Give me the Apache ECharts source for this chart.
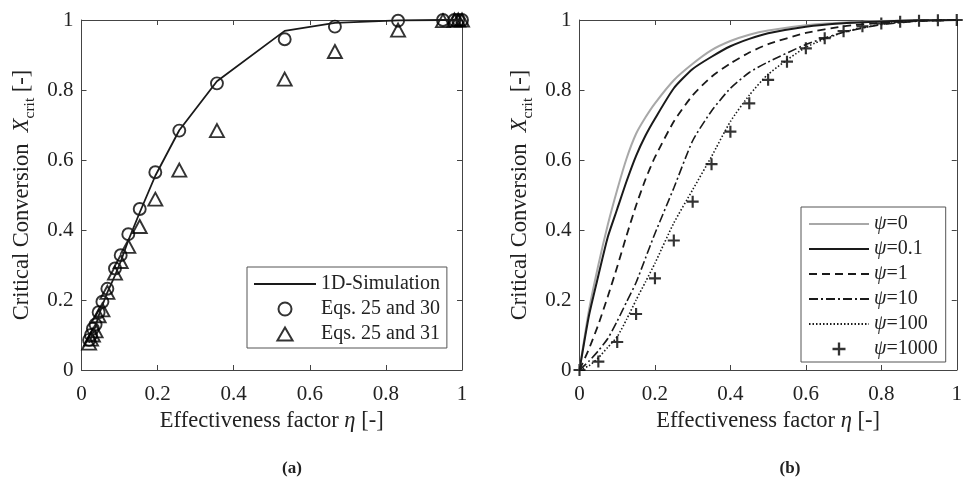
<!DOCTYPE html>
<html>
<head>
<meta charset="utf-8">
<script src="https://cdn.jsdelivr.net/npm/echarts@6/dist/echarts.min.js"></script>
<style>
  html, body { margin: 0; padding: 0; background: #fff; }
  #chart { width: 965px; height: 477px; }
</style>
</head>
<body>
<div id="chart"></div>
<script>
const FONT = "Liberation Serif";
const INK = "#222";
const BOX = "#444";

// (a) effectiveness factor values shared by simulation and both equations
const etaA = [0.02, 0.025, 0.03, 0.037, 0.045, 0.055, 0.068, 0.088, 0.103, 0.123, 0.153,
  0.194, 0.257, 0.356, 0.534, 0.666, 0.832, 0.95, 0.98, 0.99, 1.0];
const simY = [0.078, 0.092, 0.106, 0.125, 0.155, 0.185, 0.222, 0.27, 0.31, 0.37, 0.45,
  0.555, 0.685, 0.825, 0.969, 0.992, 0.999, 1, 1, 1, 1];
const eq30Y = [0.086, 0.1, 0.118, 0.13, 0.165, 0.195, 0.232, 0.29, 0.328, 0.388, 0.46,
  0.565, 0.684, 0.819, 0.945, 0.981, 0.998, 1, 1, 1, 1];
const eq31Y = [0.077, 0.088, 0.1, 0.112, 0.155, 0.172, 0.222, 0.277, 0.31, 0.353, 0.41,
  0.488, 0.571, 0.684, 0.831, 0.91, 0.971, 0.998, 1, 1, 1];

// (b) curves for different psi
const etaB = [0, 0.025, 0.05, 0.075, 0.1, 0.125, 0.15, 0.175, 0.2, 0.25, 0.3, 0.35, 0.4,
  0.45, 0.5, 0.6, 0.7, 0.8, 0.9, 1];
const psi0 = [0, 0.17, 0.30, 0.415, 0.515, 0.605, 0.675, 0.722, 0.762, 0.828, 0.875, 0.914,
  0.94, 0.958, 0.97, 0.985, 0.993, 0.997, 0.999, 1];
const psi01 = [0, 0.155, 0.27, 0.38, 0.46, 0.54, 0.612, 0.67, 0.718, 0.805, 0.86, 0.895,
  0.925, 0.946, 0.962, 0.981, 0.991, 0.996, 0.999, 1];
const psi1 = [0, 0.06, 0.13, 0.21, 0.295, 0.385, 0.47, 0.545, 0.608, 0.71, 0.785, 0.838,
  0.876, 0.907, 0.931, 0.963, 0.982, 0.992, 0.998, 1];
const psi10 = [0, 0.025, 0.055, 0.09, 0.14, 0.195, 0.25, 0.32, 0.39, 0.52, 0.655, 0.74,
  0.805, 0.85, 0.88, 0.93, 0.965, 0.987, 0.997, 1];
const psi100 = [0, 0.012, 0.035, 0.065, 0.095, 0.145, 0.2, 0.252, 0.305, 0.42, 0.515, 0.61,
  0.71, 0.785, 0.845, 0.922, 0.965, 0.988, 0.997, 1];
const etaPlus = [0, 0.05, 0.1, 0.15, 0.2, 0.25, 0.3, 0.35, 0.4, 0.45, 0.5, 0.55, 0.6, 0.65,
  0.7, 0.75, 0.8, 0.85, 0.9, 0.95, 1];
const psi1000 = [0, 0.024, 0.08, 0.16, 0.262, 0.37, 0.481, 0.588, 0.681, 0.762, 0.829, 0.881,
  0.919, 0.948, 0.968, 0.982, 0.99, 0.995, 0.998, 0.999, 1];

const psiNames = ["ψ=0", "ψ=0.1", "ψ=1", "ψ=10", "ψ=100", "ψ=1000"];

const zip = (xs, ys) => xs.map((x, i) => [x, ys[i]]);

const PLUS = "path://M4.1,0H5.9V4.1H10V5.9H5.9V10H4.1V5.9H0V4.1H4.1Z";
const TRI = "path://M7,0L14,12L0,12Z";
// hides the dot that line series put in the middle of their legend icon
const NO_DOT = { color: "rgba(0,0,0,0)", borderColor: "rgba(0,0,0,0)", borderWidth: 0 };

const xName = "Effectiveness factor {i|η} [-]";
const yName = "{a|Critical Conversion  }{i|X}{s|crit}{a| [-]}";

const nameStyle = {
  fontFamily: FONT,
  fontSize: 22.5,
  color: INK,
  rich: {
    a: { fontFamily: FONT, fontSize: 22.5, color: INK, lineHeight: 30 },
    i: { fontFamily: FONT, fontSize: 22.5, color: INK, fontStyle: "italic", lineHeight: 30 },
    s: { fontFamily: FONT, fontSize: 15.5, color: INK, lineHeight: 15, verticalAlign: "bottom" },
  },
};

function makeAxis(gridIndex, position, labelled, isX) {
  const ax = {
    type: "value",
    gridIndex: gridIndex,
    position: position,
    min: 0,
    max: 1,
    interval: 0.2,
    axisLine: { show: true, onZero: false, lineStyle: { color: BOX, width: 1 } },
    axisTick: { show: true, inside: true, length: 5, lineStyle: { color: BOX } },
    axisLabel: { show: labelled, margin: isX ? 14 : 8, fontFamily: FONT, fontSize: 21, color: INK },
    splitLine: { show: false },
  };
  if (labelled) {
    ax.name = isX ? xName : yName;
    ax.nameLocation = "middle";
    ax.nameGap = isX ? 32 : 44;
    ax.nameTextStyle = nameStyle;
  }
  return ax;
}

const legendBase = {
  orient: "vertical",
  selectedMode: false,
  symbolKeepAspect: true,
  backgroundColor: "#fff",
  borderColor: "#555",
  borderWidth: 1,
  itemHeight: 13,
  itemGap: 5,
  textStyle: {
    fontFamily: FONT,
    fontSize: 20,
    color: INK,
    rich: { i: { fontFamily: FONT, fontSize: 20, fontStyle: "italic", color: INK } },
  },
};

const chart = echarts.init(document.getElementById("chart"));

chart.setOption({
  animation: false,
  backgroundColor: "#fff",
  grid: [
    { left: 81.5, top: 20, width: 380.5, height: 350 },
    { left: 579.5, top: 20, width: 383, height: 350 },
  ],
  xAxis: [
    makeAxis(0, "bottom", true, true),
    makeAxis(0, "top", false, true),
    makeAxis(1, "bottom", true, true),
    makeAxis(1, "top", false, true),
  ],
  yAxis: [
    makeAxis(0, "left", true, false),
    makeAxis(0, "right", false, false),
    makeAxis(1, "left", true, false),
    makeAxis(1, "right", false, false),
  ],
  legend: [
    Object.assign({}, legendBase, {
      left: 247,
      top: 267,
      itemWidth: 62,
      padding: [7, 7, 4, 6],
      data: [
        { name: "1D-Simulation", itemStyle: NO_DOT },
        { name: "Eqs. 25 and 30", icon: "circle" },
        { name: "Eqs. 25 and 31", icon: TRI },
      ],
    }),
    Object.assign({}, legendBase, {
      left: 801,
      top: 207,
      itemWidth: 60,
      padding: [7, 8, 3, 7],
      data: psiNames.slice(0, 5).map(n => ({ name: n, itemStyle: NO_DOT }))
        .concat([{ name: psiNames[5], icon: PLUS }]),
      formatter: name => "{i|ψ}" + name.slice(1),
    }),
  ],
  graphic: [
    { type: "text", x: 292, y: 469, style: { text: "(a)", align: "center", verticalAlign: "middle", font: "bold 17px 'Liberation Serif'", fill: INK } },
    { type: "text", x: 790, y: 469, style: { text: "(b)", align: "center", verticalAlign: "middle", font: "bold 17px 'Liberation Serif'", fill: INK } },
  ],
  series: [
    {
      type: "line", name: "1D-Simulation", xAxisIndex: 0, yAxisIndex: 0,
      data: zip(etaA, simY), symbol: "none", color: "#1a1a1a",
      lineStyle: { color: "#1a1a1a", width: 1.8 },
    },
    {
      type: "scatter", name: "Eqs. 25 and 30", xAxisIndex: 0, yAxisIndex: 0,
      data: zip(etaA, eq30Y), symbol: "circle", symbolSize: 12,
      itemStyle: { color: "rgba(255,255,255,0)", borderColor: "#000", borderWidth: 1.9 },
    },
    {
      type: "scatter", name: "Eqs. 25 and 31", xAxisIndex: 0, yAxisIndex: 0,
      data: zip(etaA, eq31Y), symbol: "triangle", symbolSize: [14, 13],
      itemStyle: { color: "rgba(255,255,255,0)", borderColor: "#000", borderWidth: 1.9 },
    },
    {
      type: "line", name: psiNames[0], xAxisIndex: 2, yAxisIndex: 2,
      data: zip(etaB, psi0), symbol: "none", smooth: 0.2, color: "#a8a8a8",
      lineStyle: { color: "#a8a8a8", width: 2 },
    },
    {
      type: "line", name: psiNames[1], xAxisIndex: 2, yAxisIndex: 2,
      data: zip(etaB, psi01), symbol: "none", smooth: 0.2, color: "#1a1a1a",
      lineStyle: { color: "#1a1a1a", width: 2 },
    },
    {
      type: "line", name: psiNames[2], xAxisIndex: 2, yAxisIndex: 2,
      data: zip(etaB, psi1), symbol: "none", smooth: 0.2, color: "#1a1a1a",
      lineStyle: { color: "#1a1a1a", width: 1.8, type: [8, 5] },
    },
    {
      type: "line", name: psiNames[3], xAxisIndex: 2, yAxisIndex: 2,
      data: zip(etaB, psi10), symbol: "none", smooth: 0.2, color: "#1a1a1a",
      lineStyle: { color: "#1a1a1a", width: 1.6, type: [9, 3, 2, 3] },
    },
    {
      type: "line", name: psiNames[4], xAxisIndex: 2, yAxisIndex: 2,
      data: zip(etaB, psi100), symbol: "none", smooth: 0.2, color: "#1a1a1a",
      lineStyle: { color: "#1a1a1a", width: 1.6, type: [1.5, 2] },
    },
    {
      type: "scatter", name: psiNames[5], xAxisIndex: 2, yAxisIndex: 2,
      data: zip(etaPlus, psi1000), symbol: PLUS, symbolSize: 12,
      itemStyle: { color: "#000" },
    },
  ],
});
</script>
</body>
</html>
